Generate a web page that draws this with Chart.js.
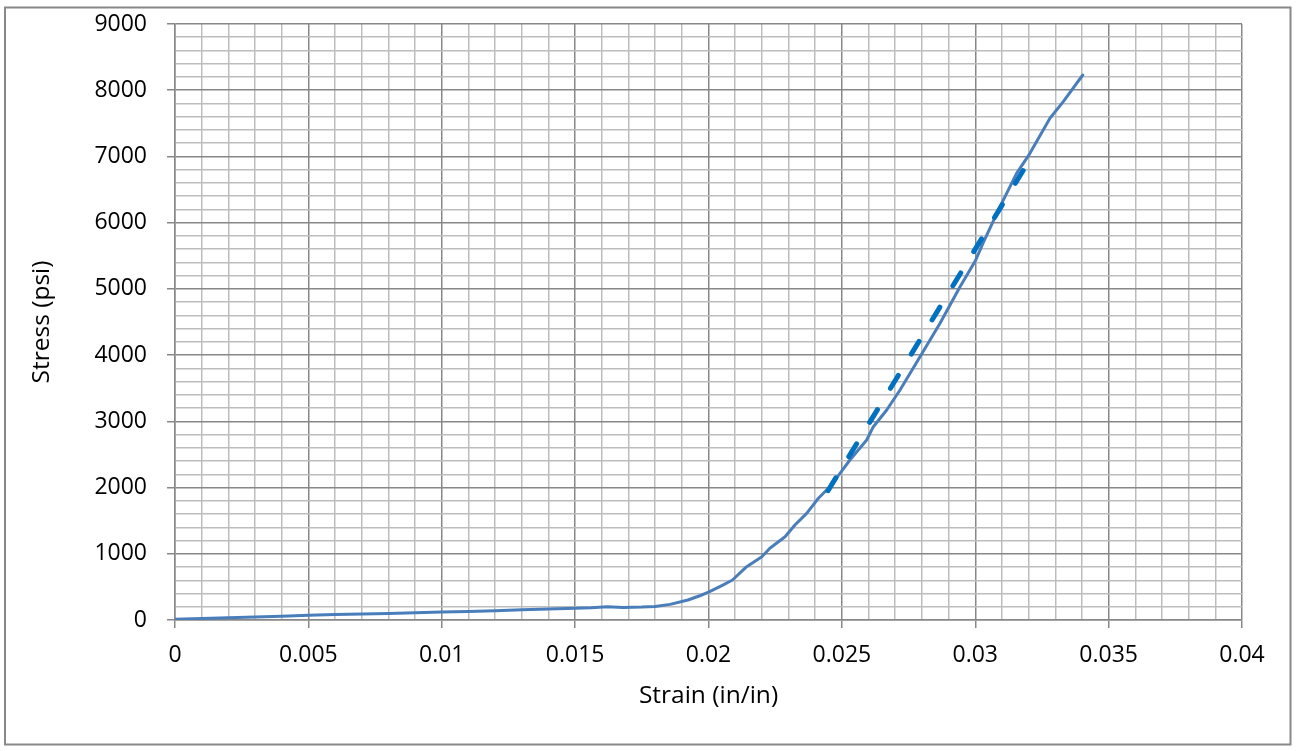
<!DOCTYPE html>
<html><head><meta charset="utf-8">
<script src="https://cdn.jsdelivr.net/npm/chart.js@4.4.0/dist/chart.umd.min.js"></script>
<style>html,body{margin:0;padding:0;background:#fff;overflow:hidden}</style>
</head><body>
<canvas id="c" width="1296" height="751"></canvas>
<script>
// Measured stress-strain curve
const strain = [0, 0.001, 0.002, 0.003, 0.004, 0.005, 0.006, 0.007, 0.008, 0.009, 0.010, 0.011, 0.012, 0.013, 0.014, 0.015, 0.0156, 0.0162, 0.0168, 0.0175, 0.0180, 0.01856, 0.01923, 0.0197, 0.0200, 0.0205, 0.0209, 0.02143, 0.0220, 0.0223, 0.02287, 0.02324, 0.02368, 0.02412, 0.02455, 0.02493, 0.0253, 0.02593, 0.02618, 0.02668, 0.02718, 0.02793, 0.02868, 0.02943, 0.0300, 0.0303, 0.03093, 0.03155, 0.03205, 0.0328, 0.0333, 0.03403];
const stress = [10, 22, 35, 45, 57, 70, 82, 90, 100, 110, 122, 130, 140, 155, 165, 176, 185, 200, 188, 195, 205, 236, 302, 370, 420, 520, 604, 805, 956, 1083, 1258, 1435, 1611, 1838, 2013, 2215, 2416, 2718, 2919, 3171, 3473, 3976, 4480, 5033, 5420, 5700, 6241, 6745, 7047, 7576, 7827, 8230];
// Dashed linear fit
const fitStrain = [0.02448, 0.03186];
const fitStress = [1952, 6830];
// Axes
const xTickLabels = ['0', '0.005', '0.01', '0.015', '0.02', '0.025', '0.03', '0.035', '0.04'];
const yTickLabels = ['0', '1000', '2000', '3000', '4000', '5000', '6000', '7000', '8000', '9000'];
const xMinorStep = 0.001, xMinorPerMajor = 5, xMax = 0.04;
const yMinorStep = 200, yMinorPerMajor = 5, yMax = 9000;
const xTitle = 'Strain (in/in)';
const yTitle = 'Stress (psi)';

const MAJOR = '#888888', MINOR = '#bdbdbd';
const tickFont = {family: 'Open Sans', size: 23};
const titleFont = {family: 'Open Sans', size: 24.5};

const framePlugin = {
  id: 'frame',
  beforeDraw(chart) {
    const c = chart.ctx;
    c.save();
    c.fillStyle = '#fff';
    c.fillRect(0, 0, chart.width, chart.height);
    c.strokeStyle = '#888888';
    c.lineWidth = 2;
    c.strokeRect(5, 7.5, 1285.5, 737);
    c.restore();
  }
};

function buildTicks(step, count) {
  const t = [];
  for (let i = 0; i <= count; i++) t.push({value: Math.round(i * step * 1e6) / 1e6});
  return t;
}

new Chart(document.getElementById('c'), {
  type: 'scatter',
  data: {
    datasets: [
      {
        data: fitStrain.map((x, i) => ({x, y: fitStress[i]})),
        showLine: true, borderColor: '#0070C0', borderWidth: 5,
        borderDash: [15, 25], borderCapStyle: 'round',
        pointRadius: 0, tension: 0
      },
      {
        data: strain.map((x, i) => ({x, y: stress[i]})),
        showLine: true, borderColor: '#4A7EBB', borderWidth: 3,
        borderJoinStyle: 'round', borderCapStyle: 'round',
        pointRadius: 0, tension: 0
      }
    ]
  },
  options: {
    responsive: false, animation: false, devicePixelRatio: 1,
    layout: {padding: {left: 0, top: 24, right: 54, bottom: 0}},
    plugins: {legend: {display: false}, tooltip: {enabled: false}},
    scales: {
      x: {
        type: 'linear', min: 0, max: xMax,
        afterBuildTicks: s => { s.ticks = buildTicks(xMinorStep, Math.round(xMax / xMinorStep)); },
        afterFit: s => { s.height = 131; s.paddingLeft = 0; s.paddingRight = 0; },
        grid: {
          color: c => (c.index % xMinorPerMajor === 0 ? MAJOR : MINOR),
          lineWidth: 1.5,
          tickColor: c => (c.index % xMinorPerMajor === 0 ? MAJOR : 'rgba(0,0,0,0)'),
          tickLength: 8, drawTicks: true
        },
        border: {color: MAJOR, width: 1.5},
        ticks: {
          autoSkip: false, maxRotation: 0, padding: 14, color: '#000', font: tickFont,
          callback: (v, i) => (i % xMinorPerMajor === 0 ? xTickLabels[i / xMinorPerMajor] : '')
        },
        title: {display: true, text: xTitle, color: '#000', font: titleFont, padding: {top: 0, bottom: 40}}
      },
      y: {
        type: 'linear', min: 0, max: yMax,
        afterBuildTicks: s => { s.ticks = buildTicks(yMinorStep, Math.round(yMax / yMinorStep)); },
        afterFit: s => { s.width = 175; s.paddingTop = 0; s.paddingBottom = 0; },
        grid: {
          color: c => (c.index % yMinorPerMajor === 0 ? MAJOR : MINOR),
          lineWidth: 1.5,
          tickColor: c => (c.index % yMinorPerMajor === 0 ? MAJOR : 'rgba(0,0,0,0)'),
          tickLength: 8, drawTicks: true
        },
        border: {color: MAJOR, width: 1.5},
        ticks: {
          autoSkip: false, padding: 20, color: '#000', font: tickFont,
          callback: (v, i) => (i % yMinorPerMajor === 0 ? yTickLabels[i / yMinorPerMajor] : '')
        },
        title: {display: true, text: yTitle, color: '#000', font: titleFont, padding: {top: 27, bottom: 0}}
      }
    }
  },
  plugins: [framePlugin]
});
</script>
</body></html>
